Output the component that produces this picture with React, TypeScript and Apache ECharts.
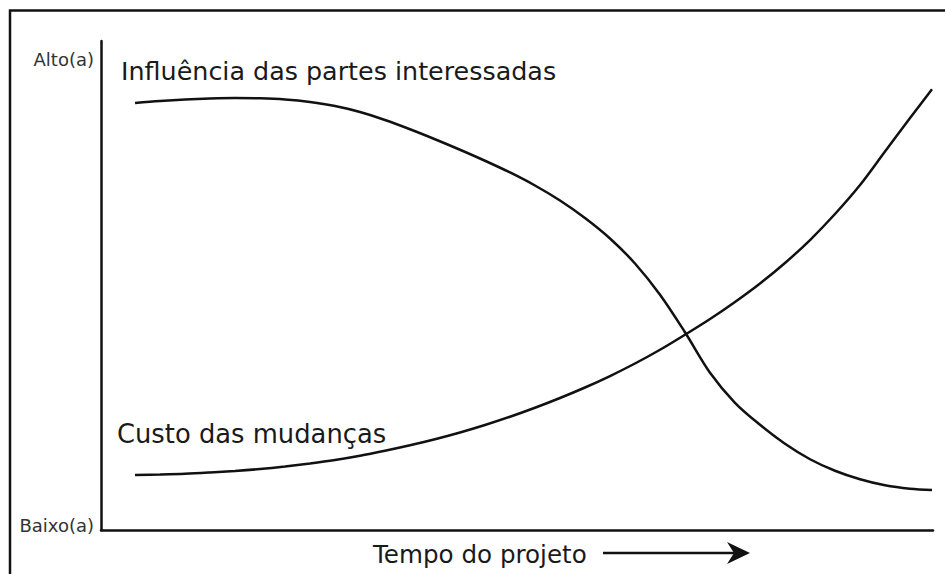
import React, { useEffect, useRef } from "react";
import * as echarts from "echarts";

// Project time (0 = start, 100 = end) at which each curve was read
const timePoints = [4.09, 7.09, 10.1, 13.1, 16.11, 19.11, 22.12, 25.12, 28.13, 31.13, 34.13, 37.14, 40.14, 43.15, 46.15, 49.16, 52.16, 55.17, 58.17, 61.18, 64.18, 67.19, 70.19, 73.2, 76.2, 79.21, 82.21, 85.22, 88.22, 91.23, 94.23, 97.24, 99.88];

// Level (0 = low, 100 = high)
const influenceValues = [87.32, 87.73, 88.04, 88.24, 88.34, 88.28, 88.04, 87.53, 86.71, 85.48, 83.84, 81.95, 79.91, 77.76, 75.51, 73.11, 70.45, 67.38, 63.8, 59.61, 54.5, 48.11, 40.44, 32.16, 26.02, 21.52, 17.64, 14.47, 12.12, 10.38, 9.15, 8.44, 8.16];
const costValues = [11.25, 11.35, 11.5, 11.76, 12.07, 12.47, 12.99, 13.6, 14.31, 15.18, 16.21, 17.33, 18.56, 19.94, 21.47, 23.16, 25.0, 26.99, 29.14, 31.49, 34.05, 36.86, 39.93, 43.15, 46.63, 50.41, 54.6, 59.3, 64.62, 70.55, 77.4, 84.25, 90.14];

const influenceLabel = "Influência das partes interessadas";
const costLabel = "Custo das mudanças";
const xAxisLabel = "Tempo do projeto";
const yHighLabel = "Alto(a)";
const yLowLabel = "Baixo(a)";

const FONT = "'DejaVu Sans', sans-serif";

export default function App() {
  const ref = useRef<HTMLDivElement>(null);

  useEffect(() => {
    if (!ref.current) return;
    const chart = echarts.init(ref.current, undefined, { renderer: "svg" });
    const axisCommon = {
      type: "value" as const,
      min: 0,
      max: 100,
      axisLine: { show: true, lineStyle: { color: "#111", width: 2.5 } },
      axisTick: { show: false },
      axisLabel: { show: false },
      splitLine: { show: false },
    };
    const lineSeries = (name: string, ys: number[]) => ({
      type: "line",
      name,
      smooth: 0.33,
      showSymbol: false,
      lineStyle: { color: "#111", width: 2.5 },
      data: timePoints.map((x, i) => [x, ys[i]]),
    });
    chart.setOption({
      animation: false,
      backgroundColor: "#fff",
      grid: { left: 101, right: 12, top: 41, bottom: 44 },
      xAxis: { ...axisCommon },
      yAxis: { ...axisCommon },
      series: [lineSeries(influenceLabel, influenceValues), lineSeries(costLabel, costValues)],
      graphic: [
        {
          type: "rect",
          silent: true,
          shape: { x: 10, y: 10.5, width: 1000, height: 700 },
          style: { fill: "none", stroke: "#111", lineWidth: 2.5 },
        },
        {
          type: "text",
          x: 94,
          y: 59,
          style: { text: yHighLabel, font: `18px ${FONT}`, fill: "#333", align: "right", verticalAlign: "middle" },
        },
        {
          type: "text",
          x: 94,
          y: 525,
          style: { text: yLowLabel, font: `18px ${FONT}`, fill: "#333", align: "right", verticalAlign: "middle" },
        },
        {
          type: "text",
          x: 121,
          y: 71,
          style: { text: influenceLabel, font: `25.4px ${FONT}`, fill: "#1a1a1a", align: "left", verticalAlign: "middle" },
        },
        {
          type: "text",
          x: 117,
          y: 434,
          style: { text: costLabel, font: `25.8px ${FONT}`, fill: "#1a1a1a", align: "left", verticalAlign: "middle" },
        },
        {
          type: "text",
          x: 373,
          y: 554,
          style: { text: xAxisLabel, font: `24.6px ${FONT}`, fill: "#1a1a1a", align: "left", verticalAlign: "middle" },
        },
        {
          type: "line",
          shape: { x1: 603, y1: 553, x2: 735, y2: 553 },
          style: { stroke: "#111", lineWidth: 2.5 },
        },
        {
          type: "polygon",
          shape: { points: [[750, 553], [727, 542], [734, 553], [727, 564]] },
          style: { fill: "#111" },
        },
      ],
    });
    return () => chart.dispose();
  }, []);

  return (
    <div
      ref={ref}
      style={{ position: "fixed", left: 0, top: 0, width: 945, height: 574 }}
    />
  );
}
